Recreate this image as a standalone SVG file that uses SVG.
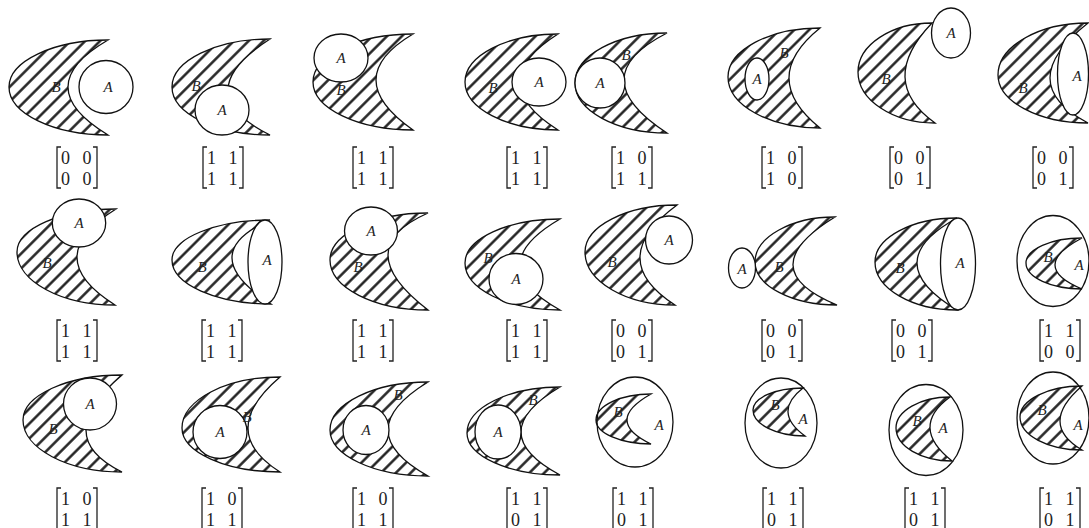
<svg xmlns="http://www.w3.org/2000/svg" width="1089" height="528" viewBox="0 0 1089 528">
<defs>
<pattern id="hatch" width="10.5" height="10.5" patternUnits="userSpaceOnUse" patternTransform="rotate(45)">
<line x1="5.25" y1="0" x2="5.25" y2="10.5" stroke="#1a1a1a" stroke-width="2.4"/>
</pattern>
<style>
.b{fill:url(#hatch);stroke:#111;stroke-width:1.3}
.a{fill:#fff;stroke:#111;stroke-width:1.3}
.lbl{font-family:"Liberation Serif",serif;font-style:italic;font-size:15px;text-anchor:middle;fill:#222}
.num{font-family:"Liberation Serif",serif;font-size:18px;text-anchor:middle;fill:#222}
.br{fill:none;stroke:#222;stroke-width:1.3}
</style>
</defs>
<rect width="1089" height="528" fill="#fff"/>

<!-- Row 1 -->
<g id="p1">
<path class="b" d="M108,40 C53.5,40 9,61.2 9,87 C9,113.4 53.5,135 108,135 Q28,86.5 108,40Z"/>
<ellipse class="a" cx="106" cy="87" rx="27" ry="26.5"/>
<text class="lbl" x="56" y="92">B</text><text class="lbl" x="108" y="92">A</text>
<path class="br" d="M61,147H57V188H61M93,147H97V188H93"/>
<text class="num" y="164"><tspan x="65.5">0</tspan><tspan x="87">0</tspan></text>
<text class="num" y="185"><tspan x="65.5">0</tspan><tspan x="87">0</tspan></text>
</g>
<g id="p2">
<path class="b" d="M270,39 C216.1,39 172,60.6 172,87 C172,113.4 216.1,135 270,135 Q186,93 270,39Z"/>
<ellipse class="a" cx="222" cy="110" rx="27" ry="25"/>
<text class="lbl" x="196" y="91">B</text><text class="lbl" x="222" y="115">A</text>
<path class="br" d="M207,147H203V188H207M239,147H243V188H239"/>
<text class="num" y="164"><tspan x="211.5">1</tspan><tspan x="233">1</tspan></text>
<text class="num" y="185"><tspan x="211.5">1</tspan><tspan x="233">1</tspan></text>
</g>
<g id="p3">
<path class="b" d="M413,34 C358,34 313,55.6 313,82 C313,108.4 358,130 413,130 Q339,78 413,34Z"/>
<ellipse class="a" cx="341" cy="58" rx="27" ry="24"/>
<text class="lbl" x="341" y="63">A</text><text class="lbl" x="341" y="95">B</text>
<path class="br" d="M357,147H353V188H357M389,147H393V188H389"/>
<text class="num" y="164"><tspan x="361.5">1</tspan><tspan x="383">1</tspan></text>
<text class="num" y="185"><tspan x="361.5">1</tspan><tspan x="383">1</tspan></text>
</g>
<g id="p4">
<path class="b" d="M558,34 C506.9,34 465,55.6 465,82 C465,108.4 506.9,130 558,130 Q482,82 558,34Z"/>
<ellipse class="a" cx="539" cy="82" rx="27" ry="24"/>
<text class="lbl" x="493" y="93">B</text><text class="lbl" x="539" y="87">A</text>
<path class="br" d="M511,147H507V188H511M543,147H547V188H543"/>
<text class="num" y="164"><tspan x="515.5">1</tspan><tspan x="537">1</tspan></text>
<text class="num" y="185"><tspan x="515.5">1</tspan><tspan x="537">1</tspan></text>
</g>
<g id="p5">
<path class="b" d="M667,33 C616.4,33 575,55.5 575,83 C575,110.5 616.4,133 667,133 Q581,77 667,33Z"/>
<ellipse class="a" cx="600" cy="83" rx="25" ry="25"/>
<text class="lbl" x="600" y="88">A</text><text class="lbl" x="626" y="60">B</text>
<path class="br" d="M616,147H612V188H616M648,147H652V188H648"/>
<text class="num" y="164"><tspan x="620.5">1</tspan><tspan x="642">0</tspan></text>
<text class="num" y="185"><tspan x="620.5">1</tspan><tspan x="642">1</tspan></text>
</g>
<g id="p6">
<path class="b" d="M820,28 C769.4,28 728,50 728,77 C728,105 769.4,128 820,128 Q758,78 820,28Z"/>
<ellipse class="a" cx="757" cy="79" rx="12" ry="21"/>
<text class="lbl" x="757" y="84">A</text><text class="lbl" x="784" y="58">B</text>
<path class="br" d="M766,147H762V188H766M798,147H802V188H798"/>
<text class="num" y="164"><tspan x="770.5">1</tspan><tspan x="792">0</tspan></text>
<text class="num" y="185"><tspan x="770.5">1</tspan><tspan x="792">0</tspan></text>
</g>
<g id="p7">
<path class="b" d="M932,23 C891.3,23 858,45 858,72 C858,100 892.7,123 935,123 Q876.5,81 932,23Z"/>
<ellipse class="a" cx="951" cy="33" rx="19.5" ry="25"/>
<text class="lbl" x="951" y="38">A</text><text class="lbl" x="886" y="84">B</text>
<path class="br" d="M894,147H890V188H894M926,147H930V188H926"/>
<text class="num" y="164"><tspan x="898.5">0</tspan><tspan x="920">0</tspan></text>
<text class="num" y="185"><tspan x="898.5">0</tspan><tspan x="920">1</tspan></text>
</g>
<g id="p8">
<path class="b" d="M1088,23 C1038.5,23 998,46.4 998,75 C998,101.4 1038.5,123 1088,123 Q1012,83 1088,23Z"/>
<ellipse class="a" cx="1073" cy="74" rx="15.5" ry="41"/>
<text class="lbl" x="1023" y="93">B</text><text class="lbl" x="1077" y="81">A</text>
<path class="br" d="M1037,147H1033V188H1037M1069,147H1073V188H1069"/>
<text class="num" y="164"><tspan x="1041.5">0</tspan><tspan x="1063">0</tspan></text>
<text class="num" y="185"><tspan x="1041.5">0</tspan><tspan x="1063">1</tspan></text>
</g>

<!-- Row 2 -->
<g id="p9">
<path class="b" d="M116,209 C61.5,209 17,228.4 17,252 C17,281.2 61.1,305 115,305 Q38.5,257 116,209Z"/>
<ellipse class="a" cx="79" cy="223" rx="26.7" ry="24"/>
<text class="lbl" x="79" y="228">A</text><text class="lbl" x="47" y="268">B</text>
<path class="br" d="M61,320H57V361H61M93,320H97V361H93"/>
<text class="num" y="337"><tspan x="65.5">1</tspan><tspan x="87">1</tspan></text>
<text class="num" y="358"><tspan x="65.5">1</tspan><tspan x="87">1</tspan></text>
</g>
<g id="p10">
<path class="b" d="M270,220 C216.1,220 172,238 172,260 C172,284.2 216.5,304 271,304 Q193.5,254 270,220Z"/>
<ellipse class="a" cx="265" cy="262" rx="17" ry="42"/>
<text class="lbl" x="202" y="272">B</text><text class="lbl" x="267" y="265">A</text>
<path class="br" d="M206,320H202V361H206M238,320H242V361H238"/>
<text class="num" y="337"><tspan x="210.5">1</tspan><tspan x="232">1</tspan></text>
<text class="num" y="358"><tspan x="210.5">1</tspan><tspan x="232">1</tspan></text>
</g>
<g id="p11">
<path class="b" d="M428,213 C374.1,213 330,234.2 330,260 C330,287.5 374.1,310 428,310 Q348,248.5 428,213Z"/>
<ellipse class="a" cx="371" cy="231" rx="26.5" ry="24"/>
<text class="lbl" x="371" y="236">A</text><text class="lbl" x="358" y="272">B</text>
<path class="br" d="M357,320H353V361H357M389,320H393V361H389"/>
<text class="num" y="337"><tspan x="361.5">1</tspan><tspan x="383">1</tspan></text>
<text class="num" y="358"><tspan x="361.5">1</tspan><tspan x="383">1</tspan></text>
</g>
<g id="p12">
<path class="b" d="M560,219 C507.8,219 465,238.8 465,263 C465,288.9 507.8,310 560,310 Q480,265.5 560,219Z"/>
<ellipse class="a" cx="516" cy="279" rx="27" ry="25.5"/>
<text class="lbl" x="488" y="263">B</text><text class="lbl" x="516" y="284">A</text>
<path class="br" d="M511,320H507V361H511M543,320H547V361H543"/>
<text class="num" y="337"><tspan x="515.5">1</tspan><tspan x="537">1</tspan></text>
<text class="num" y="358"><tspan x="515.5">1</tspan><tspan x="537">1</tspan></text>
</g>
<g id="p13">
<path class="b" d="M677,205 C626.4,205 585,226.2 585,252 C585,281.2 625.5,305 675,305 Q604,259 677,205Z"/>
<ellipse class="a" cx="669" cy="240" rx="23.5" ry="24"/>
<text class="lbl" x="612" y="267">B</text><text class="lbl" x="669" y="245">A</text>
<path class="br" d="M616,320H612V361H616M648,320H652V361H648"/>
<text class="num" y="337"><tspan x="620.5">0</tspan><tspan x="642">0</tspan></text>
<text class="num" y="358"><tspan x="620.5">0</tspan><tspan x="642">1</tspan></text>
</g>
<g id="p14">
<path class="b" d="M835,217 C791,217 755,237.3 755,262 C755,285.7 791.9,305 837,305 Q750,269 835,217Z"/>
<ellipse class="a" cx="742" cy="268" rx="13.5" ry="20"/>
<text class="lbl" x="742" y="274">A</text><text class="lbl" x="779" y="272">B</text>
<path class="br" d="M766,320H762V361H766M798,320H802V361H798"/>
<text class="num" y="337"><tspan x="770.5">0</tspan><tspan x="792">0</tspan></text>
<text class="num" y="358"><tspan x="770.5">0</tspan><tspan x="792">1</tspan></text>
</g>
<g id="p15">
<path class="b" d="M957,218 C911.9,218 875,237.8 875,262 C875,288.4 911.9,310 957,310 Q877,262 957,218Z"/>
<ellipse class="a" cx="958" cy="264" rx="17.5" ry="46"/>
<text class="lbl" x="900" y="273">B</text><text class="lbl" x="960" y="268">A</text>
<path class="br" d="M896,320H892V361H896M928,320H932V361H928"/>
<text class="num" y="337"><tspan x="900.5">0</tspan><tspan x="922">0</tspan></text>
<text class="num" y="358"><tspan x="900.5">0</tspan><tspan x="922">1</tspan></text>
</g>
<g id="p16">
<ellipse class="a" cx="1053" cy="261" rx="36" ry="45.5"/>
<path class="b" d="M1082,238 C1051.2,238 1026,249.3 1026,263 C1026,277.3 1051.2,289 1082,289 Q1028,266.5 1082,238Z"/>
<text class="lbl" x="1048" y="262">B</text><text class="lbl" x="1079" y="270">A</text>
<path class="br" d="M1044,320H1040V361H1044M1076,320H1080V361H1076"/>
<text class="num" y="337"><tspan x="1048.5">1</tspan><tspan x="1070">1</tspan></text>
<text class="num" y="358"><tspan x="1048.5">0</tspan><tspan x="1070">0</tspan></text>
</g>

<!-- Row 3 -->
<g id="p17">
<path class="b" d="M122,375 C67.6,375 23,395.3 23,420 C23,448.6 67.6,472 122,472 Q50,436.5 122,375Z"/>
<ellipse class="a" cx="90" cy="404" rx="26.5" ry="26"/>
<text class="lbl" x="90" y="409">A</text><text class="lbl" x="53" y="434">B</text>
<path class="br" d="M61,488H57V529H61M93,488H97V529H93"/>
<text class="num" y="505"><tspan x="65.5">1</tspan><tspan x="87">0</tspan></text>
<text class="num" y="526"><tspan x="65.5">1</tspan><tspan x="87">1</tspan></text>
</g>
<g id="p18">
<path class="b" d="M280,377 C226.1,377 182,400 182,428 C182,452.2 226.1,472 280,472 Q216,431.5 280,377Z"/>
<ellipse class="a" cx="220" cy="432" rx="27" ry="26.5"/>
<text class="lbl" x="220" y="437">A</text><text class="lbl" x="247" y="422">B</text>
<path class="br" d="M206,488H202V529H206M238,488H242V529H238"/>
<text class="num" y="505"><tspan x="210.5">1</tspan><tspan x="232">0</tspan></text>
<text class="num" y="526"><tspan x="210.5">1</tspan><tspan x="232">1</tspan></text>
</g>
<g id="p19">
<path class="b" d="M428,382 C374.1,382 330,403.6 330,430 C330,455.3 374.1,476 428,476 Q348,431 428,382Z"/>
<ellipse class="a" cx="366" cy="430" rx="23" ry="24.5"/>
<text class="lbl" x="366" y="435">A</text><text class="lbl" x="398" y="400">B</text>
<path class="br" d="M357,488H353V529H357M389,488H393V529H389"/>
<text class="num" y="505"><tspan x="361.5">1</tspan><tspan x="383">0</tspan></text>
<text class="num" y="526"><tspan x="361.5">1</tspan><tspan x="383">1</tspan></text>
</g>
<g id="p20">
<path class="b" d="M560,387 C508.9,387 467,407.7 467,433 C467,456.1 508.9,475 560,475 Q482,433 560,387Z"/>
<ellipse class="a" cx="498" cy="432" rx="23" ry="27"/>
<text class="lbl" x="498" y="437">A</text><text class="lbl" x="533" y="405">B</text>
<path class="br" d="M511,488H507V529H511M543,488H547V529H543"/>
<text class="num" y="505"><tspan x="515.5">1</tspan><tspan x="537">1</tspan></text>
<text class="num" y="526"><tspan x="515.5">0</tspan><tspan x="537">1</tspan></text>
</g>
<g id="p21">
<ellipse class="a" cx="635" cy="422" rx="38" ry="45"/>
<path class="b" d="M651,394 C620.8,394 596,405.7 596,420 C596,433.2 620.8,444 651,444 Q603,421 651,394Z"/>
<text class="lbl" x="618" y="417">B</text><text class="lbl" x="659" y="430">A</text>
<path class="br" d="M617,488H613V529H617M649,488H653V529H649"/>
<text class="num" y="505"><tspan x="621.5">1</tspan><tspan x="643">1</tspan></text>
<text class="num" y="526"><tspan x="621.5">0</tspan><tspan x="643">1</tspan></text>
</g>
<g id="p22">
<ellipse class="a" cx="781" cy="423" rx="36" ry="45"/>
<path class="b" d="M803,388 C775.5,388 753,397.9 753,410 C753,424.3 776.4,436 805,436 Q772,412 803,388Z"/>
<text class="lbl" x="775" y="410">B</text><text class="lbl" x="803" y="424">A</text>
<path class="br" d="M767,488H763V529H767M799,488H803V529H799"/>
<text class="num" y="505"><tspan x="771.5">1</tspan><tspan x="793">1</tspan></text>
<text class="num" y="526"><tspan x="771.5">0</tspan><tspan x="793">1</tspan></text>
</g>
<g id="p23">
<ellipse class="a" cx="926" cy="430" rx="37" ry="45.5"/>
<path class="b" d="M950,397 C920.3,397 896,411 896,428 C896,446.2 921.2,461 952,461 Q909,427 950,397Z"/>
<text class="lbl" x="917" y="426">B</text><text class="lbl" x="943" y="433">A</text>
<path class="br" d="M909,488H905V529H909M941,488H945V529H941"/>
<text class="num" y="505"><tspan x="913.5">1</tspan><tspan x="935">1</tspan></text>
<text class="num" y="526"><tspan x="913.5">0</tspan><tspan x="935">1</tspan></text>
</g>
<g id="p24">
<ellipse class="a" cx="1053" cy="418" rx="36" ry="46"/>
<path class="b" d="M1082,386 C1047.9,386 1020,400 1020,417 C1020,435.2 1047.9,450 1082,450 Q1038,424 1082,386Z"/>
<text class="lbl" x="1042" y="415">B</text><text class="lbl" x="1078" y="430">A</text>
<path class="br" d="M1044,488H1040V529H1044M1076,488H1080V529H1076"/>
<text class="num" y="505"><tspan x="1048.5">1</tspan><tspan x="1070">1</tspan></text>
<text class="num" y="526"><tspan x="1048.5">0</tspan><tspan x="1070">1</tspan></text>
</g>
<g id="connectors"/>
</svg>
